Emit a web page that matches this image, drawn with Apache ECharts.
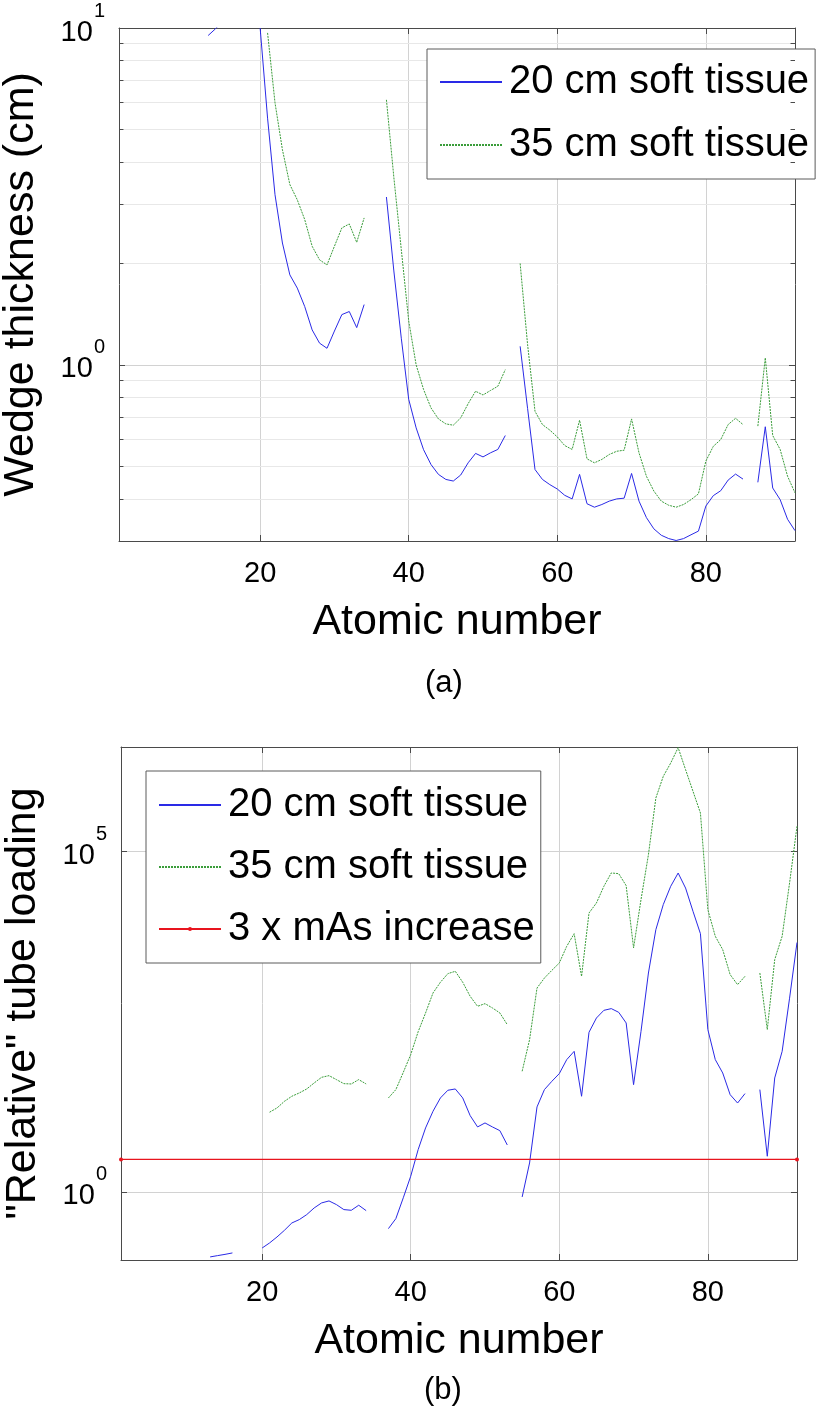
<!DOCTYPE html>
<html><head><meta charset="utf-8">
<script src="https://cdn.jsdelivr.net/npm/echarts@6/dist/echarts.min.js"></script>
<style>html,body{margin:0;padding:0;background:#fff}#c{width:816px;height:1411px}</style>
</head><body><div id="c"></div>
<script>
// ---------- data ----------
const atomicNumbers = [13,14,15,16,17,18,19,20,21,22,23,24,25,26,27,28,29,30,31,32,33,34,35,36,37,38,39,40,41,42,43,44,45,46,47,48,49,50,51,52,53,54,55,56,57,58,59,60,61,62,63,64,65,66,67,68,69,70,71,72,73,74,75,76,77,78,79,80,81,82,83,84,85,86,87,88,89,90,91,92];
// (a) wedge thickness, cm
const wedge20 = [9.5,9.95,10.5,10.9,null,null,null,10.0,5.4,3.2,2.3,1.85,1.69,1.49,1.27,1.16,1.12,1.26,1.41,1.44,1.29,1.51,null,null,3.15,1.9,1.2,0.79,0.65,0.56,0.506,0.473,0.457,0.452,0.471,0.512,0.546,0.533,0.548,0.561,0.617,null,1.135,0.743,0.489,0.457,0.441,0.428,0.410,0.400,0.473,0.387,0.378,0.385,0.394,0.400,0.402,0.476,0.394,0.352,0.326,0.312,0.305,0.301,0.305,0.313,0.321,0.381,0.409,0.423,0.455,0.474,0.458,null,0.448,0.655,0.431,0.398,0.348,0.322];
const wedge35 = [null,null,null,null,null,null,null,null,9.67,6.0,4.35,3.43,3.09,2.70,2.25,2.05,1.98,2.25,2.55,2.62,2.31,2.73,null,null,6.12,3.6,2.2,1.35,1.0,0.845,0.745,0.691,0.668,0.662,0.696,0.767,0.835,0.814,0.839,0.864,0.968,null,2.0,1.15,0.728,0.665,0.640,0.611,0.576,0.561,0.685,0.526,0.512,0.524,0.542,0.554,0.558,0.691,0.548,0.467,0.422,0.394,0.383,0.378,0.385,0.398,0.414,0.518,0.573,0.600,0.665,0.694,0.665,null,0.658,1.049,0.617,0.561,0.467,0.417];
// (b) "relative" tube loading
const load20 = [0.111,0.116,0.121,0.127,null,null,null,0.150,0.178,0.218,0.273,0.350,0.392,0.464,0.581,0.689,0.737,0.651,0.55,0.537,0.637,0.531,null,null,0.289,0.405,0.82,1.70,4.18,8.7,15.3,24.0,31.1,32.5,24.0,13.2,9.0,10.3,9.0,7.94,4.89,null,0.843,2.66,17.7,31.8,42.1,54.6,87.6,116,25.4,221,358,464,492,434,303,37.6,228,1640,7100,16600,30800,48200,29000,13200,6200,242,87.7,55.8,26.8,20.2,27.8,null,31.8,3.34,47.1,116,700,4600];
const load35 = [null,null,null,null,null,null,null,null,14.8,17.1,21.4,25.4,28.4,32.5,39.8,48.2,51.0,44.6,38.9,38.5,44.6,38.5,null,null,24.0,31.8,57,104,225,425,835,1200,1605,1737,1200,746,532,582,503,425,286,null,59.1,172,986,1384,1794,2300,4045,6200,1466,12470,17500,30760,48300,47200,31500,3830,19600,89700,610000,1270000,1990000,3350000,1590000,764000,367000,13960,5680,3616,1553,1107,1466,null,1641,242,2580,5680,34400,234000];
const mAsX = [1, 92];
const mAsY = [3, 3];
const xTicks = [20, 40, 60, 80];
const wedgeTicks = [1, 10];
const wedgeMinor = [0.4,0.5,0.6,0.7,0.8,0.9,2,3,4,5,6,7,8,9];
const loadTicks = [1, 100000];
const names = ['20 cm soft tissue', '35 cm soft tissue', '3 x mAs increase'];

// ---------- helpers ----------
const FONT = '"Liberation Sans", Arial, Helvetica, sans-serif';
const BLUE = '#2a2ae6', GREEN = '#3a9d3a', RED = '#e8141e';
const AX = '#4a4a4a', GRID = '#d2d2d2', MINOR = '#e8e8e8';
function pairs(xs, ys) { return xs.map((x, i) => [x, ys[i] == null ? '-' : ys[i]]); }
function sci(v) { return '{b|10}{e|' + Math.round(Math.log10(v)) + '}'; }
const richSci = {
  b: { fontSize: 29, lineHeight: 29, fontFamily: FONT, color: '#000', verticalAlign: 'bottom' },
  e: { fontSize: 20, fontFamily: FONT, color: '#000', verticalAlign: 'top', padding: [0, 0, 26, 1] }
};

function xAxes(grid) {
  return [
    { type: 'value', gridIndex: grid, min: 1, max: 92, position: 'bottom',
      name: 'Atomic number', nameLocation: 'middle', nameGap: 60,
      nameTextStyle: { fontSize: 43, fontFamily: FONT, color: '#000' },
      axisLine: { show: true, lineStyle: { color: AX, width: 1 } },
      axisTick: { show: true, inside: true, length: 6, customValues: xTicks, lineStyle: { color: AX } },
      axisLabel: { show: true, customValues: xTicks, margin: 18, fontSize: 29, fontFamily: FONT, color: '#000' },
      splitLine: { show: true, lineStyle: { color: GRID, width: 1 } } },
    { type: 'value', gridIndex: grid, min: 1, max: 92, position: 'top',
      axisLine: { show: true, lineStyle: { color: AX, width: 1 } },
      axisTick: { show: true, inside: true, length: 6, customValues: xTicks, lineStyle: { color: AX } },
      axisLabel: { show: false }, splitLine: { show: false } }
  ];
}
function yAxes(grid, min, max, ticks, name, gap) {
  return [
    { type: 'log', logBase: 10, gridIndex: grid, min: min, max: max, position: 'left',
      name: name, nameLocation: 'middle', nameGap: gap,
      nameTextStyle: { fontSize: 43, fontFamily: FONT, color: '#000' },
      axisLine: { show: true, lineStyle: { color: AX, width: 1 } },
      axisTick: { show: true, inside: true, length: 6, customValues: ticks, lineStyle: { color: AX } },
      axisLabel: { show: true, customValues: ticks, margin: 14, padding: [0, 0, 8, 0], formatter: sci, rich: richSci },
      splitLine: { show: true, lineStyle: { color: GRID, width: 1 } } },
    { type: 'log', logBase: 10, gridIndex: grid, min: min, max: max, position: 'right',
      axisLine: { show: true, lineStyle: { color: AX, width: 1 } },
      axisTick: { show: true, inside: true, length: 6, customValues: ticks, lineStyle: { color: AX } },
      axisLabel: { show: false }, splitLine: { show: false } }
  ];
}
const minorLines = wedgeMinor.map(v => ({ yAxis: v }));
const minorTicks = [];
wedgeMinor.forEach(v => {
  minorTicks.push([{ coord: [1, v] }, { coord: [1.6, v] }]);
  minorTicks.push([{ coord: [91.4, v] }, { coord: [92, v] }]);
});

const legendBase = {
  orient: 'vertical', itemWidth: 62, itemHeight: 5,
  backgroundColor: '#fff', borderColor: '#5a5a5a', borderWidth: 1, borderRadius: 0,
  textStyle: { fontSize: 40, fontFamily: FONT, color: '#000', padding: [0, 0, 0, 2] },
  selectedMode: false
};
const noDot = { opacity: 0 };

const option = {
  animation: false,
  backgroundColor: '#fff',
  title: [
    { text: '(a)', left: 425, top: 668, padding: 0, textStyle: { fontSize: 31, fontWeight: 'normal', fontFamily: FONT, color: '#000' } },
    { text: '(b)', left: 424, top: 1375, padding: 0, textStyle: { fontSize: 31, fontWeight: 'normal', fontFamily: FONT, color: '#000' } }
  ],
  grid: [
    { left: 119, top: 28, right: 21, bottom: 870, containLabel: false, outerBoundsMode: 'none' },
    { left: 121, top: 747, right: 19, bottom: 151, containLabel: false, outerBoundsMode: 'none' }
  ],
  xAxis: [...xAxes(0), ...xAxes(1)],
  yAxis: [...yAxes(0, 0.3, 10, wedgeTicks, 'Wedge thickness (cm)', 76),
          ...yAxes(1, 0.1, 3.42e6, loadTicks, '"Relative" tube loading', 76)],
  legend: [
    Object.assign({}, legendBase, { left: 427, top: 49, itemGap: 23, padding: [13, 6, 14, 12],
      data: [{ name: names[0], itemStyle: noDot }, { name: names[1], itemStyle: noDot }] }),
    Object.assign({}, legendBase, { left: 146, top: 771, itemGap: 22, padding: [14, 6, 14, 12],
      data: [{ name: names[0], itemStyle: noDot }, { name: names[1], itemStyle: noDot }, { name: names[2] }] })
  ],
  series: [
    { name: names[0], type: 'line', xAxisIndex: 0, yAxisIndex: 0, data: pairs(atomicNumbers, wedge20),
      symbol: 'none', connectNulls: false, lineStyle: { color: BLUE, width: 1 }, itemStyle: { color: BLUE }, z: 3,
      markLine: { silent: true, symbol: 'none', z: 1, label: { show: false }, animation: false,
        lineStyle: { color: MINOR, width: 1, type: 'solid' }, data: minorLines } },
    { name: names[1], type: 'line', xAxisIndex: 0, yAxisIndex: 0, data: pairs(atomicNumbers, wedge35),
      symbol: 'none', connectNulls: false, lineStyle: { color: GREEN, width: 1, type: [2, 1] }, itemStyle: { color: GREEN }, z: 3,
      markLine: { silent: true, symbol: 'none', label: { show: false }, animation: false,
        lineStyle: { color: AX, width: 1, type: 'solid' }, data: minorTicks } },
    { name: names[0], type: 'line', xAxisIndex: 2, yAxisIndex: 2, data: pairs(atomicNumbers, load20),
      symbol: 'none', connectNulls: false, lineStyle: { color: BLUE, width: 1 }, itemStyle: { color: BLUE }, z: 3 },
    { name: names[1], type: 'line', xAxisIndex: 2, yAxisIndex: 2, data: pairs(atomicNumbers, load35),
      symbol: 'none', connectNulls: false, lineStyle: { color: GREEN, width: 1, type: [2, 1] }, itemStyle: { color: GREEN }, z: 3 },
    { name: names[2], type: 'line', xAxisIndex: 2, yAxisIndex: 2, data: pairs(mAsX, mAsY),
      symbol: 'circle', symbolSize: 4, showSymbol: true, lineStyle: { color: RED, width: 1.2 }, itemStyle: { color: RED }, z: 4 }
  ]
};
const chart = echarts.init(document.getElementById('c'), null, { renderer: 'canvas' });
chart.setOption(option);
</script>
</body></html>
